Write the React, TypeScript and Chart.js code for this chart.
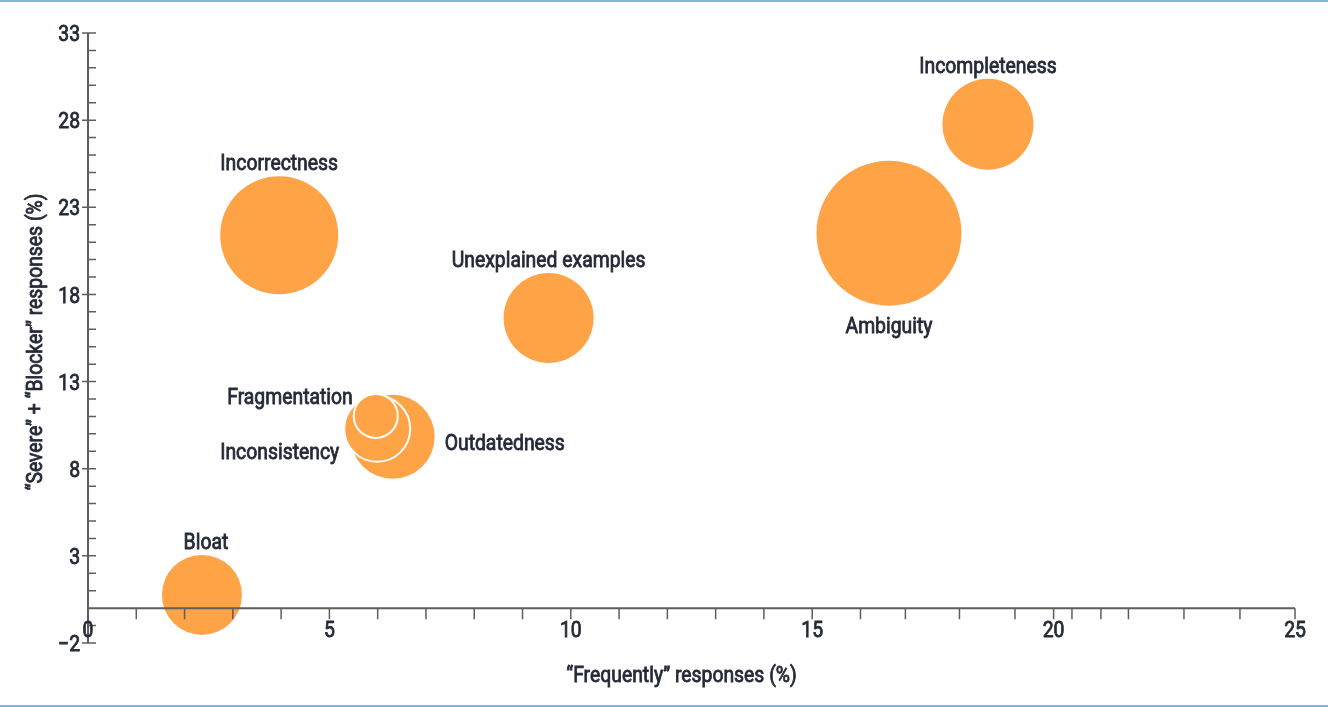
import { useEffect, useRef } from "react";
import { Chart, registerables } from "chart.js";

Chart.register(...registerables);

// issue categories, in drawing order (last ones drawn on top)
const issues = [
  "Incorrectness",
  "Unexplained examples",
  "Ambiguity",
  "Incompleteness",
  "Bloat",
  "Outdatedness",
  "Inconsistency",
  "Fragmentation",
];
// "Frequently" responses (%)
const frequently = [3.96, 9.54, 16.59, 18.64, 2.36, 6.31, 5.99, 5.96];
// "Severe" + "Blocker" responses (%)
const severeBlocker = [21.4, 16.65, 21.51, 27.76, 0.76, 9.83, 10.29, 11.03];
// bubble radius
const bubbleSize = [59, 45, 72.5, 45.5, 40, 42, 33, 22];

const xMajorTicks = [0, 5, 10, 15, 20, 25];
const xMinorTicks = [1, 2, 3, 4, 6, 7, 8, 9, 11, 12, 13, 14, 16, 16.93, 18.05, 19.2, 20.38, 20.98, 21.55, 22.7, 23.86];
const yMajorTicks = [-2, 3, 8, 13, 18, 23, 28, 33];
const yMinorTicks = [-1, 1, 2, 4, 5, 6, 7, 9, 10, 11, 12, 14, 15, 16, 17, 19, 20, 21, 22, 24, 25, 26, 27, 29, 30, 31, 32];

// where each label sits relative to its bubble
const labelPlacement = [
  { side: "top", dx: 0, dy: 0 },
  { side: "top", dx: 0, dy: 0 },
  { side: "bottom", dx: 0, dy: 0 },
  { side: "top", dx: 0, dy: 0 },
  { side: "top", dx: 4, dy: 0 },
  { side: "right", dx: 10, dy: 5.5 },
  { side: "left", dx: -5, dy: 22 },
  { side: "left", dx: -1, dy: -20.5 },
];

const TEXT = "#262a38";
const AXIS = "#5d5e60";
const FONT = "22.5px Roboto, 'Liberation Sans', sans-serif";
const CONDENSE = 0.86; // the original uses a condensed, medium face

function drawText(ctx: CanvasRenderingContext2D, text: string, x: number, y: number, align: CanvasTextAlign) {
  ctx.save();
  ctx.translate(x, y + 2.5);
  ctx.scale(CONDENSE, 1);
  ctx.textAlign = align;
  ctx.fillText(text, 0, 0);
  ctx.strokeText(text, 0, 0);
  ctx.restore();
}

const paperPlugin = {
  id: "paperAxes",
  beforeDraw(chart: any) {
    const { ctx, width, height } = chart;
    ctx.save();
    ctx.fillStyle = "#7db6d6";
    ctx.fillRect(0, 0, width, 2);
    ctx.fillRect(0, height - 2, width, 2);
    ctx.restore();
  },
  afterDatasetsDraw(chart: any) {
    const { ctx } = chart;
    const x = chart.scales.x;
    const y = chart.scales.y;
    const x0 = x.getPixelForValue(0);
    const yZero = y.getPixelForValue(0);

    ctx.save();
    ctx.strokeStyle = AXIS;
    ctx.lineWidth = 2;
    ctx.beginPath();
    ctx.moveTo(x0, y.top);
    ctx.lineTo(x0, y.bottom);
    ctx.moveTo(x.left, yZero);
    ctx.lineTo(x.right, yZero);
    ctx.stroke();

    ctx.lineWidth = 1.5;
    ctx.beginPath();
    yMajorTicks.forEach((v) => {
      const p = y.getPixelForValue(v);
      ctx.moveTo(x0 - 6, p);
      ctx.lineTo(x0 + 8, p);
    });
    yMinorTicks.forEach((v) => {
      const p = y.getPixelForValue(v);
      ctx.moveTo(x0, p);
      ctx.lineTo(x0 + 8, p);
    });
    [...xMajorTicks, ...xMinorTicks].forEach((v) => {
      const p = x.getPixelForValue(v);
      ctx.moveTo(p, yZero);
      ctx.lineTo(p, yZero + 11);
    });
    ctx.stroke();

    ctx.fillStyle = TEXT;
    ctx.strokeStyle = TEXT;
    ctx.lineWidth = 0.85;
    ctx.font = FONT;
    ctx.textBaseline = "middle";
    yMajorTicks.forEach((v) => {
      const label = v < 0 ? "\u2212" + Math.abs(v) : String(v);
      drawText(ctx, label, x0 - 8, y.getPixelForValue(v), "right");
    });
    xMajorTicks.forEach((v) => {
      drawText(ctx, String(v), x.getPixelForValue(v), yZero + 21, "center");
    });

    // axis titles
    drawText(ctx, "\u201CFrequently\u201D responses (%)", (x.left + x.right) / 2 - 10, 674, "center");
    ctx.save();
    ctx.translate(36, (y.top + y.bottom) / 2 + 4);
    ctx.rotate(-Math.PI / 2);
    drawText(ctx, "\u201CSevere\u201D + \u201CBlocker\u201D responses (%)", 0, -2, "center");
    ctx.restore();

    // bubble labels
    const meta = chart.getDatasetMeta(0);
    meta.data.forEach((el: any, i: number) => {
      const r = el.options.radius;
      const pl = labelPlacement[i];
      let tx = el.x + pl.dx;
      let ty = el.y + pl.dy;
      let align: CanvasTextAlign = "center";
      if (pl.side === "top") {
        ty = el.y - r - 14;
      } else if (pl.side === "bottom") {
        ty = el.y + r + 19;
      } else if (pl.side === "left") {
        align = "right";
        tx = el.x - r + pl.dx;
      } else {
        align = "left";
        tx = el.x + r + pl.dx;
      }
      drawText(ctx, issues[i], tx, ty, align);
    });
    ctx.restore();
  },
};

function IssueBubbleChart() {
  const canvasRef = useRef<HTMLCanvasElement>(null);

  useEffect(() => {
    document.body.style.margin = "0";
    if (!canvasRef.current) return;

    const chart = new Chart(canvasRef.current, {
      type: "bubble",
      data: {
        labels: issues,
        datasets: [
          {
            data: issues.map((_, i) => ({
              x: frequently[i],
              y: severeBlocker[i],
              r: bubbleSize[i],
            })),
            backgroundColor: "#ffa347",
            borderColor: "#ffffff",
            borderWidth: [0, 0, 0, 0, 0, 0, 2, 2],
            clip: false,
          } as any,
        ],
      },
      options: {
        animation: false,
        responsive: true,
        maintainAspectRatio: false,
        events: [],
        layout: { autoPadding: false, padding: { left: 88, right: 33, top: 33, bottom: 64 } },
        scales: {
          x: { type: "linear", min: 0, max: 25, display: false },
          y: { type: "linear", min: -2, max: 33, display: false },
        },
        plugins: {
          legend: { display: false },
          tooltip: { enabled: false },
        },
      },
      plugins: [paperPlugin],
    });

    return () => {
      chart.destroy();
    };
  }, []);

  return (
    <div style={{ width: 1328, height: 707, position: "relative" }}>
      <canvas ref={canvasRef}></canvas>
    </div>
  );
}

export default function App() {
  return <IssueBubbleChart />;
}
